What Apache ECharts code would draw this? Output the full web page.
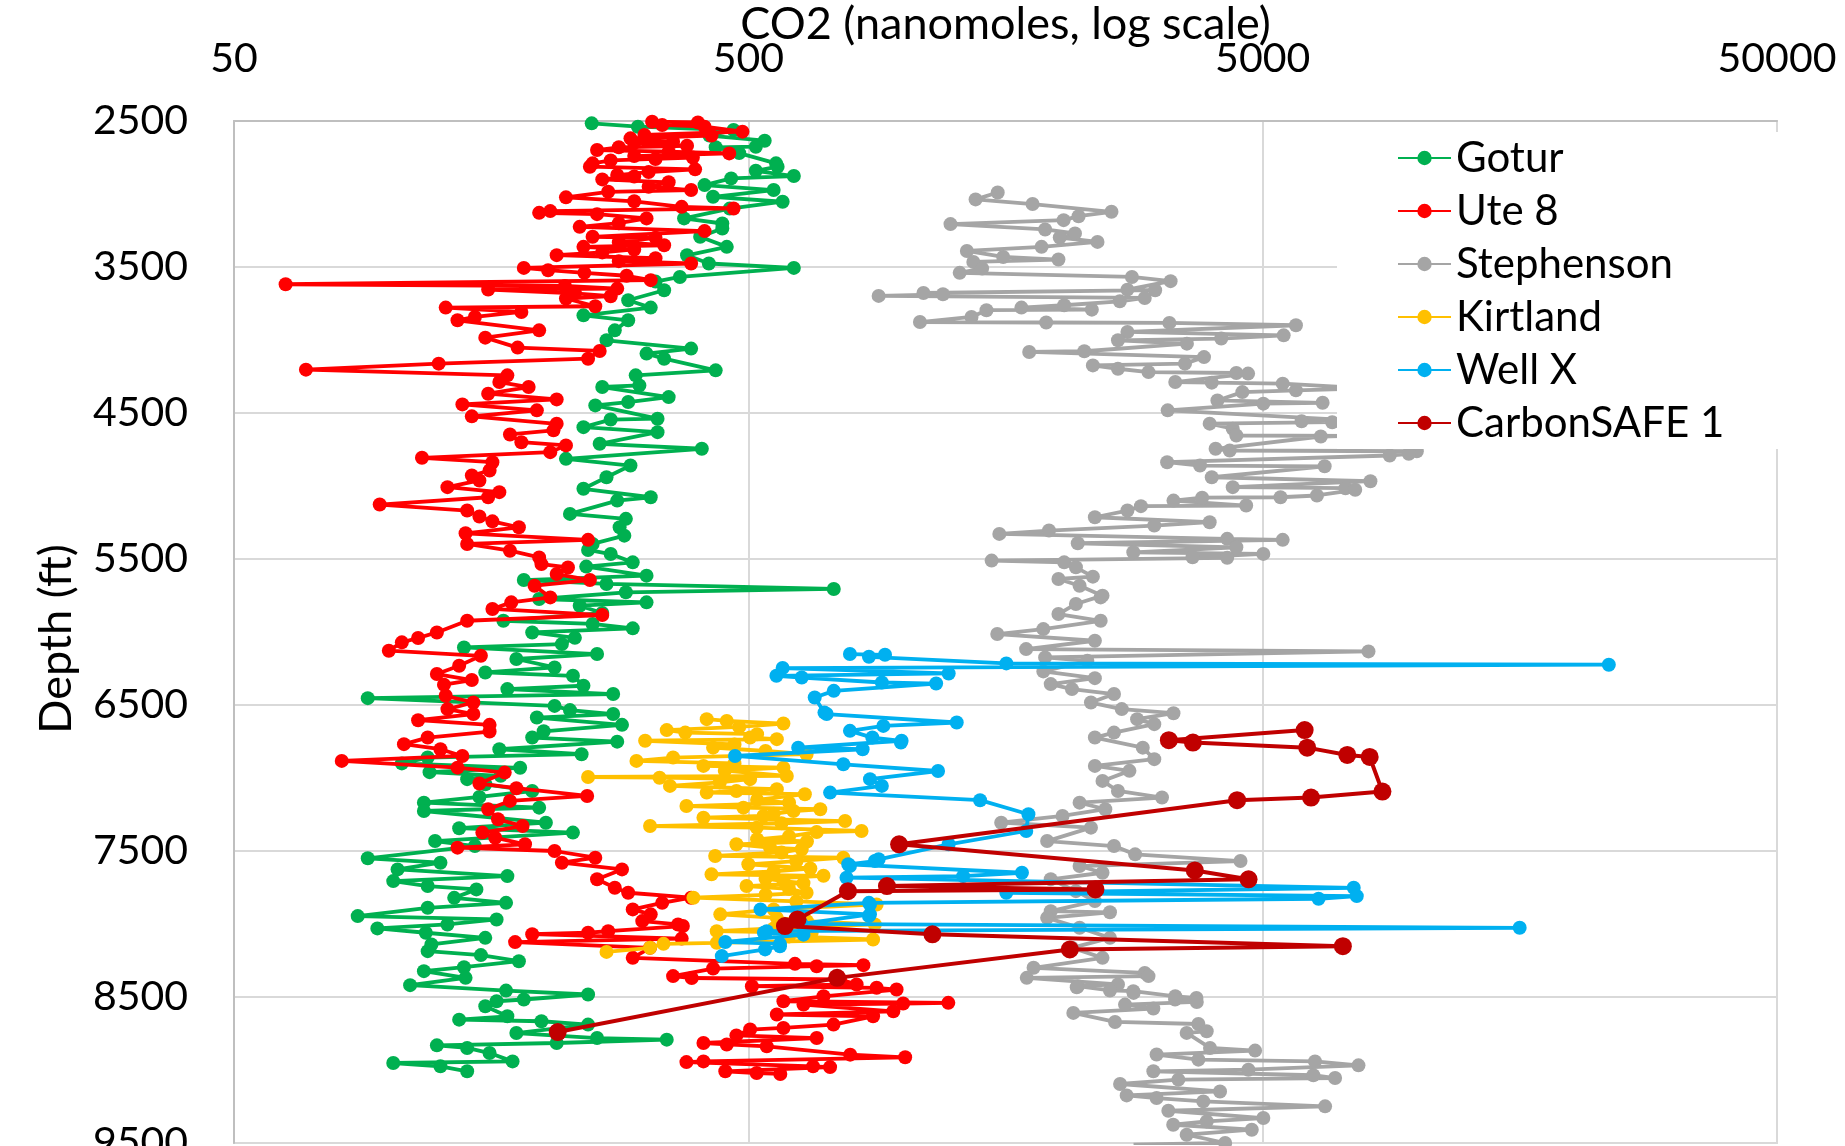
<!DOCTYPE html>
<html>
<head>
<meta charset="utf-8">
<script src="https://cdn.jsdelivr.net/npm/echarts@6/dist/echarts.min.js"></script>
<style>
html,body{margin:0;padding:0;background:#fff;}
#chart{width:1845px;height:1146px;}
</style>
</head>
<body>
<div id="chart"></div>
<script>
// ---- axis ticks ----
const xTickValues = [50, 500, 5000, 50000];
const seriesNames = ['Gotur', 'Ute 8', 'Stephenson', 'Kirtland', 'Well X', 'CarbonSAFE 1'];
const seriesColors = ['#00B050', '#FF0000', '#A5A5A5', '#FFC000', '#00B0F0', '#C00000'];

// ---- data: [depth (ft), CO2 (nanomoles)] ----
const gotur = [[2516,248],[2539,305],[2562,468],[2600,420],[2635,538],[2676,517],[2680,432],[2720,480],[2790,566],[2813,570],[2841,517],[2877,613],[2893,463],[2939,411],[2973,560],[3019,427],[3053,583],[3100,460],[3167,375],[3202,445],[3236,445],[3293,403],[3362,454],[3420,380],[3476,419],[3506,613],[3568,368],[3600,330],[3659,343],[3728,292],[3778,323],[3831,239],[3865,292],[3934,275],[4002,265],[4059,387],[4093,317],[4128,343],[4208,432],[4242,302],[4311,307],[4322,260],[4391,350],[4425,292],[4448,252],[4539,333],[4545,270],[4597,239],[4631,333],[4711,257],[4745,406],[4814,221],[4860,295],[4940,265],[5019,239],[5077,323],[5100,278],[5191,225],[5225,289],[5283,281],[5340,287],[5397,249],[5438,244],[5466,270],[5523,298],[5552,242],[5614,317],[5644,183],[5671,265],[5705,733],[5728,289],[5774,196],[5797,317],[5820,235],[5870,260],[5923,167],[5945,249],[5975,298],[6003,190],[6040,230],[6083,217],[6106,140],[6151,254],[6185,177],[6243,210],[6277,154],[6300,228],[6368,239],[6391,170],[6425,273],[6453,91],[6506,210],[6535,225],[6562,273],[6586,194],[6636,284],[6680,200],[6723,190],[6751,278],[6803,164],[6837,237],[6860,119],[6900,106],[6930,180],[6960,120],[6985,165],[7008,142],[7043,154],[7089,190],[7130,150],[7169,117],[7203,196],[7226,117],[7306,202],[7344,137],[7374,228],[7432,123],[7466,147],[7550,91],[7580,126],[7626,104],[7672,170],[7706,102],[7740,119],[7763,148],[7821,134],[7855,169],[7889,119],[7946,87],[7969,162],[8003,130],[8030,95],[8060,118],[8095,154],[8140,121],[8186,119],[8213,151],[8255,179],[8296,140],[8323,117],[8369,141],[8419,110],[8456,169],[8483,244],[8517,183],[8529,162],[8563,154],[8632,170],[8655,137],[8666,198],[8689,244],[8747,177],[8781,254],[8792,347],[8815,212],[8831,124],[8849,142],[8884,157],[8941,174],[8952,102],[8975,126],[9009,142]];

const ute8 = [[2505,325],[2510,399],[2527,340],[2539,411],[2573,487],[2596,314],[2600,424],[2619,295],[2642,357],[2650,300],[2670,380],[2680,280],[2699,254],[2710,350],[2722,459],[2740,300],[2750,390],[2760,330],[2770,270],[2790,249],[2813,246],[2831,394],[2850,320],[2870,278],[2880,300],[2900,260],[2920,350],[2950,320],[2973,387],[2985,267],[3023,221],[3050,300],[3088,371],[3099,468],[3117,206],[3129,196],[3138,254],[3167,317],[3200,280],[3225,235],[3254,411],[3293,249],[3300,330],[3330,280],[3351,343],[3362,239],[3380,300],[3400,260],[3419,212],[3440,330],[3460,280],[3476,387],[3506,183],[3522,204],[3540,240],[3560,290],[3590,323],[3618,63],[3630,220],[3648,278],[3654,156],[3680,230],[3700,270],[3716,221],[3769,252],[3778,129],[3808,181],[3842,147],[3865,136],[3934,196],[3984,154],[4052,178],[4075,257],[4128,244],[4162,125],[4203,69],[4242,170],[4288,164],[4322,187],[4368,156],[4407,212],[4441,139],[4482,194],[4523,145],[4574,212],[4619,209],[4647,172],[4700,181],[4722,221],[4768,206],[4807,116],[4837,159],[4894,157],[4928,145],[4962,150],[5008,130],[5042,164],[5077,156],[5127,96],[5168,142],[5209,150],[5242,159],[5283,179],[5324,141],[5369,244],[5397,142],[5443,172],[5489,196],[5535,198],[5558,223],[5603,212],[5644,246],[5683,192],[5763,206],[5797,173],[5842,159],[5884,260],[5923,142],[6003,124],[6041,114],[6071,106],[6128,100],[6163,151],[6231,137],[6288,124],[6329,145],[6361,128],[6437,129],[6483,146],[6528,130],[6562,146],[6604,114],[6636,157],[6682,157],[6723,119],[6768,107],[6803,126],[6849,139],[6883,81],[6929,136],[6963,168],[7038,150],[7070,177],[7123,243],[7157,172],[7214,156],[7283,163],[7329,182],[7374,152],[7409,161],[7454,184],[7477,136],[7500,210],[7546,252],[7580,217],[7626,284],[7694,254],[7752,275],[7786,292],[7820,387],[7855,340],[7900,298],[7934,323],[7980,311],[8003,365],[8014,373],[8049,267],[8060,244],[8070,190],[8100,371],[8124,176],[8163,322],[8232,298],[8273,616],[8282,837],[8289,679],[8305,427],[8357,357],[8370,388],[8380,754],[8414,812],[8426,508],[8437,888],[8449,971],[8495,700],[8529,585],[8540,1224],[8545,1000],[8552,640],[8598,957],[8620,568],[8632,874],[8689,732],[8712,585],[8723,504],[8763,474],[8781,679],[8815,409],[8825,454],[8838,543],[8895,789],[8913,1009],[8941,409],[8946,379],[8975,668],[8980,721],[9009,451],[9021,519],[9027,577]];

const stephenson = [[2990,1527],[3037,1383],[3069,1785],[3122,2541],[3152,2193],[3179,2051],[3206,1236],[3243,1888],[3270,2158],[3298,2016],[3328,2387],[3362,1858],[3390,1330],[3431,1565],[3449,2004],[3465,1369],[3510,1424],[3540,1288],[3568,2785],[3597,3311],[3655,2729],[3659,3090],[3678,1095],[3687,1195],[3698,896],[3712,2949],[3735,2638],[3762,2056],[3778,1698],[3792,2327],[3796,1452],[3842,1358],[3877,1078],[3880,1897],[3883,3293],[3899,5803],[3945,2729],[3968,5493],[3990,4154],[4002,2616],[4025,3562],[4077,2250],[4082,1758],[4117,3845],[4162,3531],[4174,2338],[4197,2616],[4220,2999],[4226,4444],[4230,4684],[4288,3381],[4292,3981],[4299,5469],[4332,8000],[4345,5803],[4357,4565],[4414,4083],[4430,6539],[4436,5015],[4482,3268],[4551,7500],[4556,5952],[4563,6826],[4573,3944],[4608,4373],[4654,4444],[4656,7400],[4661,6486],[4745,4050],[4757,4314],[4762,9970],[4779,9617],[4791,8830],[4837,3260],[4860,3777],[4865,6599],[4940,3981],[4967,8100],[5008,4373],[5015,7243],[5026,7567],[5065,6376],[5077,5416],[5080,3813],[5100,3354],[5134,4644],[5138,2899],[5168,2729],[5214,2359],[5248,3944],[5271,3078],[5305,1921],[5328,1538],[5362,4266],[5369,5469],[5392,2185],[5420,4444],[5454,2802],[5465,5015],[5488,3653],[5492,4266],[5511,1486],[5523,2056],[5557,2167],[5621,2338],[5637,2004],[5683,2203],[5751,2441],[5763,2421],[5808,2167],[5877,2004],[5923,2421],[5980,1873],[6014,1524],[6060,2359],[6117,1734],[6133,8030],[6174,1888],[6197,2281],[6270,1873],[6316,2359],[6357,1936],[6391,2129],[6425,2570],[6483,2318],[6528,2661],[6556,3354],[6597,2850],[6631,3078],[6689,2570],[6723,2359],[6792,2923],[6871,3078],[6917,2359],[6951,2754],[7020,2441],[7089,2616],[7134,3186],[7169,2203],[7214,2472],[7260,2041],[7306,1551],[7340,2318],[7432,1905],[7466,2570],[7523,2825],[7569,4528],[7603,2203],[7649,2441],[7694,1936],[7775,2167],[7843,2359],[7912,1936],[7920,2524],[7958,1905],[8026,2203],[8095,2524],[8163,2129],[8232,2441],[8300,1793],[8335,2949],[8357,2999],[8369,1739],[8414,2616],[8426,2185],[8433,2175],[8455,2524],[8460,2802],[8472,2805],[8495,3381],[8506,3717],[8517,3378],[8534,3723],[8552,2700],[8579,3065],[8609,2142],[8671,2582],[8685,3750],[8735,3892],[8746,3558],[8849,3950],[8867,4833],[8894,3110],[8929,3750],[8941,6320],[8968,7678],[8998,4690],[9009,3065],[9036,6273],[9055,6915],[9066,3428],[9096,2641],[9147,4131],[9174,2720],[9192,3110],[9215,3833],[9249,6612],[9279,3278],[9329,5015],[9352,3892],[9375,3350],[9409,4762],[9443,3558],[9500,4227],[9512,2805]];

const kirtland = [[6597,415],[6609,454],[6627,585],[6650,480],[6672,347],[6689,377],[6700,520],[6723,504],[6734,568],[6745,315],[6770,470],[6792,427],[6815,540],[6837,649],[6860,357],[6883,303],[6900,470],[6917,409],[6929,585],[6950,450],[6986,594],[6993,244],[6998,336],[7008,504],[7030,440],[7054,352],[7077,568],[7089,474],[7100,415],[7111,644],[7150,520],[7170,600],[7192,379],[7203,489],[7214,690],[7226,612],[7245,560],[7260,535],[7272,409],[7295,771],[7310,580],[7329,322],[7340,519],[7363,830],[7370,679],[7400,600],[7420,520],[7435,650],[7454,474],[7477,551],[7488,635],[7510,580],[7534,431],[7546,765],[7570,620],[7591,500],[7620,660],[7640,560],[7660,424],[7670,700],[7690,540],[7706,585],[7720,640],[7740,496],[7760,600],[7786,649],[7800,540],[7820,391],[7845,620],[7866,888],[7900,560],[7934,441],[7958,568],[7980,650],[8003,881],[8030,560],[8049,434],[8060,664],[8085,600],[8106,874],[8129,434],[8136,342],[8163,322],[8191,265]];

const wellX = [[6151,788],[6156,922],[6170,858],[6215,1587],[6224,23550],[6247,583],[6284,1226],[6300,567],[6312,635],[6346,909],[6353,1159],[6403,733],[6449,673],[6552,703],[6562,710],[6620,1271],[6643,915],[6677,788],[6723,871],[6745,993],[6757,990],[6792,625],[6803,834],[6849,471],[6906,765],[6952,1169],[7008,862],[7054,909],[7100,721],[7152,1411],[7248,1752],[7363,1735],[7454,1226],[7557,896],[7569,881],[7591,782],[7603,788],[7649,1702],[7672,1308],[7683,776],[7752,7516],[7786,1587],[7809,7620],[7827,6421],[7855,858],[7866,862],[7900,528],[7934,862],[7946,858],[7999,635],[8026,15800],[8049,543],[8060,536],[8073,640],[8123,451],[8136,576],[8152,576],[8174,539],[8220,444]];

const carbonSafe1 = [[6672,6034],[6741,3285],[6757,3659],[6792,6103],[6842,7303],[6856,8073],[7093,8547],[7134,6209],[7152,4459],[7454,982],[7633,3690],[7694,4694],[7740,930],[7763,2365],[7775,781],[7969,623],[8014,589],[8071,1140],[8152,7160],[8174,2109],[8369,744],[8740,213]];

const allData = [gotur, ute8, stephenson, kirtland, wellX, carbonSafe1];

const FONT = 'Lato';
const chart = echarts.init(document.getElementById('chart'), null, {renderer: 'canvas', width: 1845, height: 1146});

const series = allData.map((arr, i) => {
  const big = i === 5;
  return {
    name: seriesNames[i],
    type: 'line',
    data: arr.map(p => [p[1], p[0]]),
    symbol: 'circle',
    symbolSize: big ? 18 : 14,
    showSymbol: true,
    lineStyle: {width: big ? 4 : 3.8, color: seriesColors[i]},
    itemStyle: {color: seriesColors[i]},
    emphasis: {disabled: true},
    animation: false,
    z: 2 + i * 0.01
  };
});

chart.setOption({
  animation: false,
  backgroundColor: '#ffffff',
  textStyle: {fontFamily: FONT},
  grid: {left: 234, right: 68, top: 121, bottom: 3, show: true, borderColor: '#d9d9d9', borderWidth: 2,
    backgroundColor: 'transparent', containLabel: false, outerBoundsMode: 'none'},
  xAxis: {
    type: 'log', logBase: 10, min: 50, max: 50000, position: 'top',
    name: 'CO2 (nanomoles, log scale)', nameLocation: 'middle', nameGap: 74, nameMoveOverlap: false,
    nameTextStyle: {fontFamily: FONT, fontSize: 45, color: '#000'},
    axisLine: {show: true, onZero: false, lineStyle: {color: '#bfbfbf', width: 2}},
    axisTick: {show: false, customValues: xTickValues},
    axisLabel: {customValues: xTickValues, fontFamily: FONT, fontSize: 41, color: '#000', margin: 42,
      formatter: v => String(Math.round(v))},
    splitLine: {show: true, lineStyle: {color: '#d9d9d9', width: 2}},
    minorSplitLine: {show: false}
  },
  yAxis: {
    type: 'value', inverse: true, min: 2500, max: 9500, interval: 1000,
    name: 'Depth (ft)', nameLocation: 'middle', nameGap: 155, nameRotate: 90, nameMoveOverlap: false,
    nameTextStyle: {fontFamily: FONT, fontSize: 45, color: '#000', padding: [0, 14, 0, 0]},
    axisLine: {show: true, onZero: false, lineStyle: {color: '#bfbfbf', width: 2}},
    axisTick: {show: false},
    axisLabel: {fontFamily: FONT, fontSize: 41, color: '#000', margin: 46, formatter: v => String(v)},
    splitLine: {show: true, lineStyle: {color: '#d9d9d9', width: 2}}
  },
  legend: {
    orient: 'vertical', left: 1337, top: 132,
    padding: [4, 75, 4, 60],
    backgroundColor: '#ffffff',
    itemWidth: 53, itemHeight: 18, itemGap: 9,
    textStyle: {fontFamily: FONT, fontSize: 42, color: '#000', lineHeight: 44},
    data: seriesNames,
    selectedMode: false,
    z: 10
  },
  series: series
});
</script>
</body>
</html>
